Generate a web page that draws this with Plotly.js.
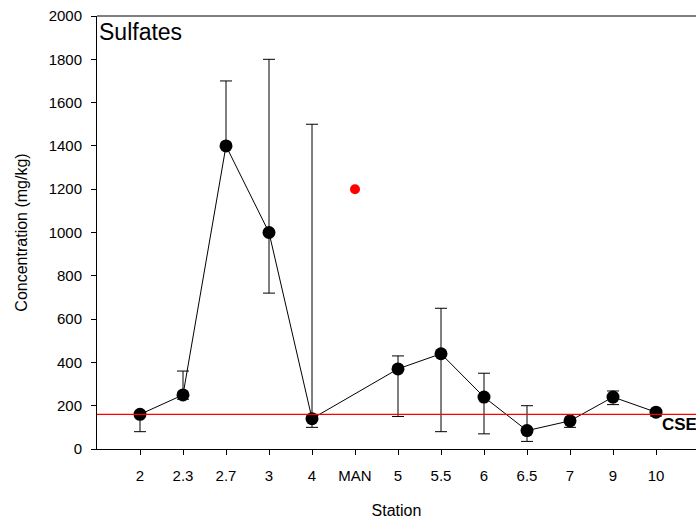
<!DOCTYPE html>
<html>
<head>
<meta charset="utf-8">
<script src="https://cdn.plot.ly/plotly-3.0.1.min.js"></script>
<style>html,body{margin:0;padding:0;background:#fff;}#chart{width:696px;height:519px;}</style>
</head>
<body>
<div id="chart"></div>
<script>
var categories = ['2','2.3','2.7','3','4','MAN','5','5.5','6','6.5','7','9','10'];
var stations = ['2','2.3','2.7','3','4','5','5.5','6','6.5','7','9','10'];
var meanValues = [160, 250, 1400, 1000, 140, 370, 440, 240, 85, 130, 240, 170];
var upperValues = [160, 360, 1700, 1800, 1500, 430, 650, 350, 200, 130, 268, 170];
var lowerValues = [80, 230, 1400, 720, 100, 150, 80, 70, 35, 100, 205, 152];
var manStation = ['MAN'];
var manValue = [1200];
var cseValue = 160;

var plus = meanValues.map(function(v,i){return upperValues[i]-v;});
var minus = meanValues.map(function(v,i){return v-lowerValues[i];});

var traces = [
  {
    x: stations, y: meanValues, type: 'scatter', mode: 'lines+markers',
    line: {color: '#000', width: 1},
    marker: {color: '#000', size: 13},
    error_y: {type: 'data', symmetric: false, array: plus, arrayminus: minus,
              color: '#000', thickness: 1, width: 6},
    showlegend: false, hoverinfo: 'skip'
  },
  {
    x: manStation, y: manValue, type: 'scatter', mode: 'markers',
    marker: {color: '#ff0000', size: 10},
    showlegend: false, hoverinfo: 'skip'
  }
];

var layout = {
  width: 696, height: 519,
  margin: {l: 97, r: 0, t: 16, b: 70},
  paper_bgcolor: '#fff', plot_bgcolor: '#fff',
  font: {family: 'Liberation Sans, Arial, sans-serif', color: '#000'},
  xaxis: {
    type: 'category', categoryorder: 'array', categoryarray: categories,
    range: [-1, 12.93],
    showline: true, linecolor: '#000', linewidth: 1,
    ticks: 'outside', ticklen: 5, tickcolor: '#000',
    showgrid: false, zeroline: false,
    tickfont: {size: 15}, ticklabelstandoff: 8,
    title: {text: 'Station', font: {size: 16}, standoff: 22}
  },
  yaxis: {
    range: [0, 2000], dtick: 200,
    showline: true, linecolor: '#000', linewidth: 1,
    ticks: 'outside', ticklen: 5, tickcolor: '#000',
    showgrid: false, zeroline: false,
    tickfont: {size: 15}, ticklabelstandoff: 6,
    title: {text: 'Concentration (mg/kg)', font: {size: 16}, standoff: 17}
  },
  shapes: [
    {type: 'line', xref: 'paper', x0: 0, x1: 1, yref: 'y', y0: cseValue, y1: cseValue,
     line: {color: '#ff0000', width: 1.2}},
    {type: 'line', xref: 'paper', x0: 0, x1: 1, yref: 'paper', y0: 1, y1: 1,
     line: {color: '#000', width: 1}}
  ],
  annotations: [
    {text: 'Sulfates', xref: 'paper', yref: 'paper', x: 0, y: 1, xanchor: 'left', yanchor: 'top',
     showarrow: false, font: {size: 23}, xshift: 0, yshift: -1},
    {text: '<b>CSE</b>', xref: 'x', yref: 'y', x: 12.1, y: cseValue, xanchor: 'left', yanchor: 'top',
     showarrow: false, font: {size: 17, family: 'Liberation Sans, Arial, sans-serif'}, yshift: 1}
  ]
};

Plotly.newPlot('chart', traces, layout, {staticPlot: true, displayModeBar: false});
</script>
</body>
</html>
